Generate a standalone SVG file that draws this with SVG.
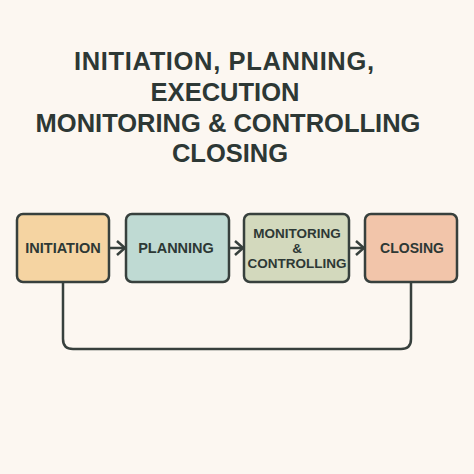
<svg xmlns="http://www.w3.org/2000/svg" width="474" height="474" viewBox="0 0 474 474">
<style>
.title{font-family:"Liberation Sans",Arial,sans-serif;font-weight:bold;font-size:25.5px;fill:#2d3835;text-anchor:middle}
.box{stroke:#37403d;stroke-width:2.5}
.lbl{font-family:"Liberation Sans",Arial,sans-serif;font-weight:bold;fill:#2d3835;text-anchor:middle}
.conn{fill:none;stroke:#37403d;stroke-width:2.5;stroke-linecap:round;stroke-linejoin:round}
</style>
<defs>
<marker id="chev" viewBox="0 0 10 16" refX="9" refY="8" markerWidth="10" markerHeight="16" markerUnits="userSpaceOnUse" orient="auto">
<path d="M1,1 L9,8 L1,15" fill="none" stroke="#37403d" stroke-width="2.5" stroke-linejoin="miter"/>
</marker>
</defs>
<rect width="474" height="474" fill="#fcf7f1"/>
<g id="title">
<text class="title" x="224" y="70" textLength="300" lengthAdjust="spacing">INITIATION, PLANNING,</text>
<text class="title" x="225" y="101">EXECUTION</text>
<text class="title" x="228" y="132">MONITORING &amp; CONTROLLING</text>
<text class="title" x="230" y="162">CLOSING</text>
</g>
<g id="connectors">
<line class="conn" x1="110" y1="248" x2="125" y2="248" marker-end="url(#chev)"/>
<line class="conn" x1="230" y1="248" x2="243" y2="248" marker-end="url(#chev)"/>
<line class="conn" x1="350" y1="248" x2="364" y2="248" marker-end="url(#chev)"/>
<path class="conn" d="M63,282 V339 Q63,349 73,349 H401 Q411,349 411,339 V282"/>
</g>
<g id="initiation">
<rect class="box" x="17" y="214" width="92" height="68" rx="6" fill="#f5d4a2"/>
<text class="lbl" x="63" y="253" font-size="14.5">INITIATION</text>
</g>
<g id="planning">
<rect class="box" x="126" y="214" width="103" height="68" rx="6" fill="#bfdad3"/>
<text class="lbl" x="176" y="253" font-size="14.5">PLANNING</text>
</g>
<g id="monitoring">
<rect class="box" x="244" y="214" width="105" height="68" rx="6" fill="#d3d9bd"/>
<text class="lbl" x="297" y="238" font-size="13.5">MONITORING</text>
<text class="lbl" x="297" y="253" font-size="13.5">&amp;</text>
<text class="lbl" x="297" y="268" font-size="13.5">CONTROLLING</text>
</g>
<g id="closing">
<rect class="box" x="365" y="214" width="92" height="68" rx="6" fill="#f2c5aa"/>
<text class="lbl" x="412" y="253" font-size="14">CLOSING</text>
</g>
</svg>
